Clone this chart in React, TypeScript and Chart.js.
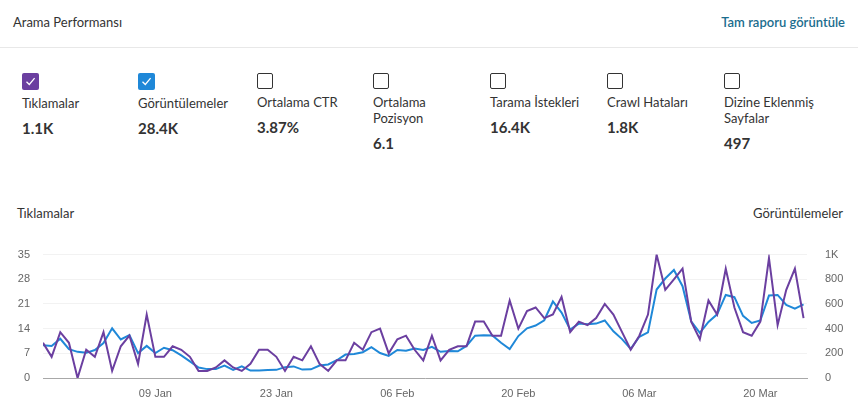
import React, { useEffect, useRef } from "react";
import { Chart, registerables } from "chart.js";

Chart.register(...registerables);

// ---- data ----
const startDay = "2022-12-27";
const dayCount = 89;
const monthNames = ["Jan", "Feb", "Mar", "Apr", "May", "Jun", "Jul", "Aug", "Sep", "Oct", "Nov", "Dec"];
const dayLabels: string[] = Array.from({ length: dayCount }, (_, i) => {
  const d = new Date(startDay + "T00:00:00Z");
  d.setUTCDate(d.getUTCDate() + i);
  return String(d.getUTCDate()).padStart(2, "0") + " " + monthNames[d.getUTCMonth()];
});

const clicks = [
  10, 6, 13, 10, 0, 8, 6, 13, 2, 9,
  12, 4, 18, 6, 6, 9, 8, 6, 2, 2,
  3, 5, 3, 2, 4, 8, 8, 6, 2, 6,
  5, 9, 4, 2, 5, 5, 10, 8, 13, 14,
  7, 11, 12, 8, 5, 12, 5, 8, 9, 9,
  16, 16, 12, 12, 22, 14, 19, 20, 17, 18,
  23, 13, 16, 15, 17, 21, 18, 13, 8, 12,
  18, 35, 25, 28, 31, 16, 11, 22, 18, 31,
  20, 13, 12, 16, 34, 15, 25, 31, 17,
];

const impressions = [
  265, 260, 318, 233, 212, 204, 227, 283, 403, 312,
  347, 202, 260, 202, 245, 225, 183, 135, 85, 72,
  72, 101, 66, 94, 60, 60, 64, 66, 88, 94,
  68, 70, 101, 110, 144, 190, 194, 209, 250, 202,
  179, 227, 221, 239, 227, 252, 212, 219, 216, 260,
  343, 347, 345, 285, 234, 340, 403, 425, 468, 620,
  530, 392, 441, 436, 441, 466, 378, 315, 236, 334,
  370, 717, 806, 875, 744, 460, 365, 454, 516, 673,
  655, 504, 446, 466, 668, 673, 592, 562, 597,
];

const clicksMax = 35;
const clicksStep = 7;
const impressionsMax = 1000;
const impressionsStep = 200;
const firstTickIndex = 13;
const tickEvery = 14;

const metricNames = [
  "Tıklamalar",
  "Görüntülemeler",
  "Ortalama CTR",
  "Ortalama Pozisyon",
  "Tarama İstekleri",
  "Crawl Hataları",
  "Dizine Eklenmiş Sayfalar",
];
const metricValues = ["1.1K", "28.4K", "3.87%", "6.1", "16.4K", "1.8K", "497"];

const PURPLE = "#6b3fa0";
const BLUE = "#1f88d8";
const UI_FONT = "Lato, 'Open Sans', sans-serif";
const TICK_FONT = "'Liberation Sans', Arial, sans-serif";

function CheckBox({ color }: { color?: string }) {
  if (color) {
    return (
      <div
        style={{
          width: 17,
          height: 17,
          borderRadius: 2,
          background: color,
          display: "flex",
          alignItems: "center",
          justifyContent: "center",
        }}
      >
        <svg width="11" height="11" viewBox="0 0 11 11">
          <path d="M1.5 5.8 L4.3 8.5 L9.6 2.2" fill="none" stroke="#fff" strokeWidth="1.3" />
        </svg>
      </div>
    );
  }
  return (
    <div
      style={{
        width: 14,
        height: 14,
        border: "1.5px solid #333",
        borderRadius: 2,
      }}
    />
  );
}

export default function App() {
  const canvasRef = useRef<HTMLCanvasElement | null>(null);

  useEffect(() => {
    const canvas = canvasRef.current;
    if (!canvas) return;
    const tickIdx = dayLabels
      .map((_, i) => i)
      .filter((i) => i >= firstTickIndex && (i - firstTickIndex) % tickEvery === 0);

    const chart = new Chart(canvas, {
      type: "line",
      data: {
        datasets: [
          {
            label: "Tıklamalar",
            data: clicks.map((v, i) => ({ x: i, y: v })),
            yAxisID: "y",
            borderColor: PURPLE,
            borderWidth: 2,
            pointRadius: 0,
            tension: 0,
          },
          {
            label: "Görüntülemeler",
            data: impressions.map((v, i) => ({ x: i, y: v })),
            yAxisID: "y1",
            borderColor: BLUE,
            borderWidth: 2,
            pointRadius: 0,
            tension: 0,
          },
        ],
      },
      options: {
        animation: false,
        responsive: false,
        maintainAspectRatio: false,
        layout: { padding: { top: 16, left: 0, right: 0, bottom: 0 } },
        plugins: { legend: { display: false }, tooltip: { enabled: false } },
        scales: {
          x: {
            type: "linear",
            min: 0,
            max: dayCount - 1 + 0.4,
            grid: { display: false, drawTicks: false },
            border: { display: true, color: "#a8a8a8", width: 1 },
            ticks: {
              padding: 9,
              color: "#666",
              font: { family: TICK_FONT, size: 11 },
              autoSkip: false,
              maxRotation: 0,
              callback: (v: any) => dayLabels[Number(v)] ?? "",
            },
            afterBuildTicks: (s: any) => {
              s.ticks = tickIdx.map((v) => ({ value: v }));
            },
            afterFit: (s: any) => {
              s.height = 32;
            },
          },
          y: {
            position: "left",
            min: 0,
            max: clicksMax,
            ticks: {
              stepSize: clicksStep,
              padding: 13,
              color: "#666",
              font: { family: TICK_FONT, size: 11 },
            },
            grid: { color: "#f2f2f2", drawTicks: false },
            border: { display: false },
            afterFit: (s: any) => {
              s.width = 43;
            },
          },
          y1: {
            position: "right",
            min: 0,
            max: impressionsMax,
            ticks: {
              stepSize: impressionsStep,
              padding: 18,
              color: "#666",
              font: { family: TICK_FONT, size: 11 },
              callback: (v: any) => (Number(v) >= 1000 ? Number(v) / 1000 + "K" : String(v)),
            },
            grid: { display: false, drawTicks: false },
            border: { display: false },
            afterFit: (s: any) => {
              s.width = 51;
            },
          },
        },
      },
    });
    return () => chart.destroy();
  }, []);

  const colLefts = [22, 138, 257, 373, 490, 607, 724];
  const checkColors = [PURPLE, BLUE];

  return (
    <div
      style={{
        position: "absolute",
        left: 0,
        top: 0,
        width: 858,
        height: 416,
        background: "#fff",
        fontFamily: UI_FONT,
        color: "#333",
        overflow: "hidden",
      }}
    >
      <div style={{ position: "absolute", left: 13, top: 13, fontSize: 13, lineHeight: "18px" }}>
        Arama Performansı
      </div>
      <div
        style={{
          position: "absolute",
          right: 13,
          top: 13,
          fontSize: 13,
          lineHeight: "18px",
          color: "#1b6d8e",
          fontWeight: 600,
        }}
      >
        Tam raporu görüntüle
      </div>
      <div style={{ position: "absolute", left: 0, right: 0, top: 47, height: 1, background: "#e8e8e8" }} />

      {metricNames.map((name, i) => (
        <div key={name} style={{ position: "absolute", left: colLefts[i], top: 73, width: 100 }}>
          <CheckBox color={checkColors[i]} />
          <div style={{ marginTop: 5, fontSize: 13, lineHeight: "16px" }}>{name}</div>
          <div style={{ marginTop: 7, fontSize: 15, lineHeight: "20px", fontWeight: 700 }}>
            {metricValues[i]}
          </div>
        </div>
      ))}

      <div style={{ position: "absolute", left: 17, top: 205, fontSize: 13, lineHeight: "16px" }}>
        Tıklamalar
      </div>
      <div style={{ position: "absolute", right: 15, top: 205, fontSize: 13, lineHeight: "16px" }}>
        Görüntülemeler
      </div>

      <canvas
        ref={canvasRef}
        width={858}
        height={180}
        style={{ position: "absolute", left: 0, top: 230, width: 858, height: 180 }}
      />
    </div>
  );
}
